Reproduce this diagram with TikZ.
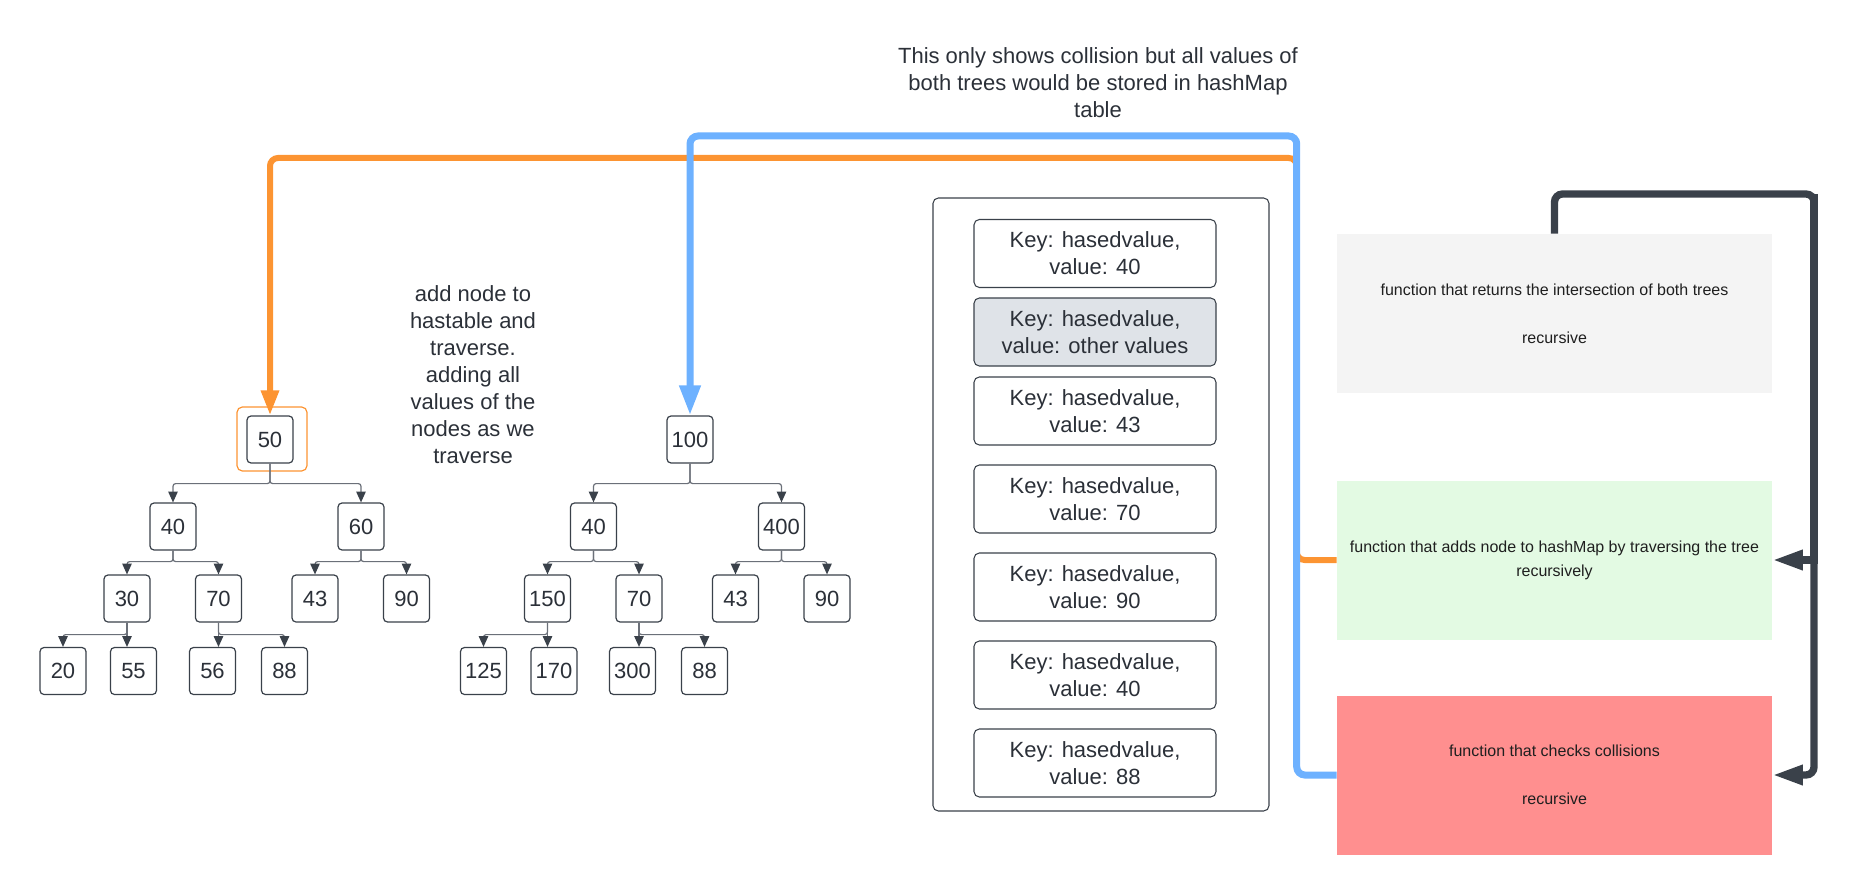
\documentclass[tikz,border=0pt]{standalone}
\usepackage{fontspec}
\setmainfont{Liberation Sans}
\usetikzlibrary{arrows.meta}
\definecolor{ink}{HTML}{3A414A}
\definecolor{txt}{HTML}{2B3038}
\definecolor{edgegray}{HTML}{6B7079}
\definecolor{lorange}{HTML}{FC9432}
\definecolor{lblue}{HTML}{6DB1FF}
\definecolor{keygray}{HTML}{DFE3E8}
\definecolor{boxgray}{HTML}{F4F4F4}
\definecolor{boxgreen}{HTML}{E3FAE3}
\definecolor{boxred}{HTML}{FF8F8F}
\newcommand\labfont{\fontsize{16.5}{20.25}\selectfont}
\newcommand\fnfont{\fontsize{12}{18}\selectfont}
\begin{document}
\begin{tikzpicture}[x=0.75pt,y=-0.75pt,
  tnode/.style={draw=ink, line width=0.9pt, rounded corners=3pt, fill=white,
    minimum width=34.5pt, minimum height=35.25pt, inner sep=0pt, text=txt, font=\labfont},
  tedge/.style={draw=edgegray, line width=0.9pt, rounded corners=2pt,
    -{Triangle[length=8pt,width=7pt,color=ink]}},
  keybox/.style={draw=ink, line width=0.8pt, rounded corners=4pt, fill=white,
    minimum width=181.5pt, minimum height=51pt, align=center, text=txt, font=\labfont},
  fnbox/.style={minimum width=326.25pt, minimum height=119.25pt, align=center,
    text=black!88, font=\fnfont},
  note/.style={align=center, text=txt, font=\labfont}]
  \useasboundingbox (0,0) rectangle (1853,895);

  % first tree
  \node [tnode] (r50) at (270,439.5) {50};
  \node [draw=lorange, line width=0.9pt, rounded corners=4pt,
         minimum width=52.5pt, minimum height=48pt] (hl50) at (272,439) {};
  \node [tnode] (a40) at (173,526.5) {40};
  \node [tnode] (a60) at (361,526.5) {60};
  \node [tnode] (a30) at (127,598.5) {30};
  \node [tnode] (a70) at (218.5,598.5) {70};
  \node [tnode] (a43) at (315,598.5) {43};
  \node [tnode] (a90) at (406.5,598.5) {90};
  \node [tnode] (a20) at (63,671) {20};
  \node [tnode] (a55) at (133.5,671) {55};
  \node [tnode] (a56) at (212.5,671) {56};
  \node [tnode] (a88) at (284.5,671) {88};
  \draw [tedge] (r50.south) -- ++(0,20) -| (a40.north);
  \draw [tedge] (r50.south) -- ++(0,20) -| (a60.north);
  \draw [tedge] (a40.south) -- ++(0,11) -| (a30.north);
  \draw [tedge] (a40.south) -- ++(0,11) -| (a70.north);
  \draw [tedge] (a60.south) -- ++(0,11) -| (a43.north);
  \draw [tedge] (a60.south) -- ++(0,11) -| (a90.north);
  \draw [tedge] (a30.south) -- ++(0,12) -| (a20.north);
  \draw [tedge] (a30.south) -- (a30.south |- a55.north);
  \draw [tedge] (a70.south) -- (a70.south |- a56.north);
  \draw [tedge] (a70.south) -- ++(0,12) -| (a88.north);

  % second tree
  \node [tnode] (r100) at (690,439.5) {100};
  \node [tnode] (b40) at (593.5,526.5) {40};
  \node [tnode] (b400) at (781.5,526.5) {400};
  \node [tnode] (b150) at (547.5,598.5) {150};
  \node [tnode] (b70) at (639,598.5) {70};
  \node [tnode] (b43) at (735.5,598.5) {43};
  \node [tnode] (b90) at (827,598.5) {90};
  \node [tnode] (b125) at (483.5,671) {125};
  \node [tnode] (b170) at (554,671) {170};
  \node [tnode] (b300) at (632.5,671) {300};
  \node [tnode] (b88) at (704.5,671) {88};
  \draw [tedge] (r100.south) -- ++(0,20) -| (b40.north);
  \draw [tedge] (r100.south) -- ++(0,20) -| (b400.north);
  \draw [tedge] (b40.south) -- ++(0,11) -| (b150.north);
  \draw [tedge] (b40.south) -- ++(0,11) -| (b70.north);
  \draw [tedge] (b400.south) -- ++(0,11) -| (b43.north);
  \draw [tedge] (b400.south) -- ++(0,11) -| (b90.north);
  \draw [tedge] (b150.south) -- ++(0,12) -| (b125.north);
  \draw [tedge] (b150.south) -- (b150.south |- b170.north);
  \draw [tedge] (b70.south) -- (b70.south |- b300.north);
  \draw [tedge] (b70.south) -- ++(0,12) -| (b88.north);

  \node [note] (trav) at (473,374.5) {add node to\\hastable and\\traverse.\\adding all\\values of the\\nodes as we\\traverse};
  \node [note] (coll) at (1098,83) {This only shows collision but all values of\\both trees would be stored in hashMap\\table};

  % hash table
  \node [draw=ink, line width=0.8pt, rounded corners=4pt,
         minimum width=252pt, minimum height=459.75pt] (table) at (1101,504.5) {};
  \node [keybox] (e1) at (1095,253.5) {Key: hasedvalue,\\value: 40};
  \node [keybox, fill=keygray] (e2) at (1095,332) {Key: hasedvalue,\\value: other values};
  \node [keybox] (e3) at (1095,411) {Key: hasedvalue,\\value: 43};
  \node [keybox] (e4) at (1095,499) {Key: hasedvalue,\\value: 70};
  \node [keybox] (e5) at (1095,587) {Key: hasedvalue,\\value: 90};
  \node [keybox] (e6) at (1095,675) {Key: hasedvalue,\\value: 40};
  \node [keybox] (e7) at (1095,763) {Key: hasedvalue,\\value: 88};

  % functions
  \node [fnbox, fill=boxgray] (interfn) at (1554.5,313.5)
        {function that returns the intersection of both trees\\[18pt]recursive};
  \node [fnbox, fill=boxgreen] (addfn) at (1554.5,560)
        {function that adds node to hashMap by traversing the tree\\recursively};
  \node [fnbox, fill=boxred] (checkfn) at (1554.5,775)
        {function that checks collisions\\[18pt]recursive};

  \coordinate (otop) at (0,158);
  \coordinate (btop) at (0,136);
  \coordinate (dtop) at (1814,194);
  \draw [lorange, line width=4.5pt, rounded corners=6pt,
         -{Triangle[length=18.75pt,width=12.75pt]}]
        (addfn.west) -- ++(-40,0) |- (otop -| r50.north) -- (r50.north);
  \draw [lblue, line width=5.25pt, rounded corners=6pt,
         -{Triangle[length=22.5pt,width=15pt]}]
        (checkfn.west) -- ++(-40,0) |- (btop -| r100.north) -- (r100.north);
  \draw [ink, line width=5.5pt, rounded corners=6pt,
         -{Triangle[length=23pt,width=14pt]}]
        (interfn.north) |- (dtop) |- (checkfn.east);
  \draw [ink, line width=5.5pt, -{Triangle[length=23pt,width=14pt]}]
        (dtop) |- (addfn.east);
\end{tikzpicture}
\end{document}
